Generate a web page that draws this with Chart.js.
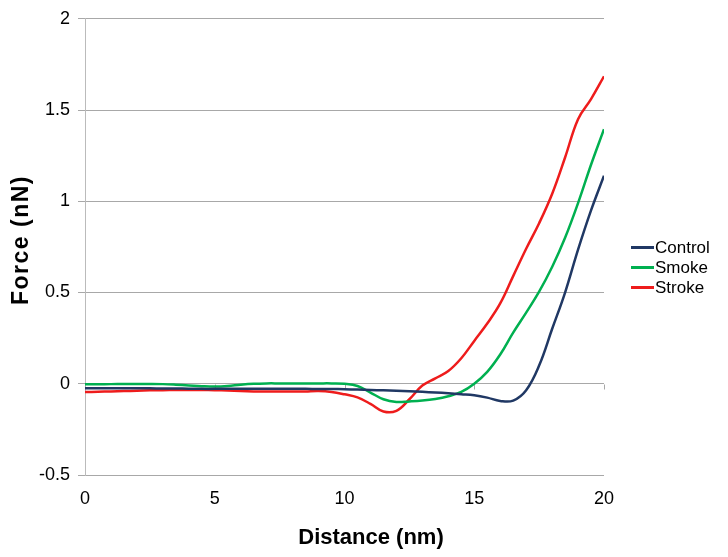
<!DOCTYPE html>
<html>
<head>
<meta charset="utf-8">
<script src="https://cdn.jsdelivr.net/npm/chart.js@4.4.1/dist/chart.umd.min.js"></script>
<style>
	body { margin: 0; background: #fff; }
	#wrap { position: relative; width: 728px; height: 557px; font-family: "Liberation Sans", Arial, sans-serif; }
	#myChart { position: absolute; left: 0; top: 0; }
	.axis-title { position: absolute; font-weight: bold; font-size: 22px; line-height: 22px; white-space: nowrap; color: #000; }
	#xTitle { left: 371px; top: 537px; transform: translate(-50%, -50%); }
	#yTitle { left: 19.5px; top: 240px; font-size: 23px; transform: translate(-50%, -50%) rotate(-90deg); letter-spacing: 1.5px; }
	#legend { position: absolute; left: 631px; top: 238px; font-size: 17px; color: #000; }
	#legend div { height: 20px; line-height: 20px; white-space: nowrap; }
	#legend span { display: inline-block; width: 23px; height: 2.5px; vertical-align: middle; margin-right: 1px; position: relative; top: -1px; }
</style>
</head>
<body>
<div id="wrap">
	<canvas id="myChart" width="728" height="557"></canvas>
	<div id="xTitle" class="axis-title">Distance (nm)</div>
	<div id="yTitle" class="axis-title">Force (nN)</div>
	<div id="legend"></div>
</div>
<script>
	// values
	var distance = [0, 0.5, 1, 1.5, 2, 2.5, 3, 3.5, 4, 4.5, 5, 5.5, 6, 6.5, 7, 7.5, 8, 8.5, 9, 9.5,
		10, 10.5, 11, 11.5, 12, 12.5, 13, 13.5, 14, 14.5, 15, 15.5, 16, 16.5, 17, 17.5, 18, 18.5, 19, 19.5, 20];

	var control = [-0.025, -0.025, -0.025, -0.025, -0.025, -0.025, -0.026, -0.026, -0.027, -0.028,
		-0.028, -0.028, -0.028, -0.028, -0.028, -0.028, -0.028, -0.028, -0.029, -0.029,
		-0.03, -0.032, -0.034, -0.036, -0.038, -0.041, -0.044, -0.048, -0.052, -0.057,
		-0.063, -0.076, -0.094, -0.092, -0.035, 0.1, 0.3, 0.5, 0.735, 0.95, 1.14];

	var smoke = [-0.003, -0.003, -0.002, -0.001, -0.001, -0.001, -0.002, -0.005, -0.009, -0.013,
		-0.015, -0.012, -0.005, 0, 0.002, 0.002, 0.002, 0.002, 0.002, 0.002,
		0, -0.012, -0.048, -0.085, -0.1, -0.097, -0.092, -0.083, -0.068, -0.045,
		0, 0.065, 0.16, 0.28, 0.39, 0.505, 0.64, 0.8, 0.99, 1.2, 1.395];

	var stroke = [-0.045, -0.044, -0.042, -0.04, -0.038, -0.036, -0.035, -0.034, -0.034, -0.034,
		-0.035, -0.037, -0.04, -0.042, -0.043, -0.043, -0.043, -0.042, -0.04, -0.045,
		-0.058, -0.075, -0.11, -0.152, -0.148, -0.085, -0.01, 0.03, 0.07, 0.14,
		0.235, 0.33, 0.44, 0.59, 0.74, 0.88, 1.04, 1.24, 1.45, 1.56, 1.685];

	var seriesNames = ['Control', 'Smoke', 'Stroke'];
	var seriesColors = ['#203864', '#00B050', '#EE1C1C'];
	var yTickValues = [-0.5, 0, 0.5, 1, 1.5, 2];
	var xTickValues = [0, 5, 10, 15, 20];

	var gridColor = '#A8A8A8';

	function toPoints(values) {
		var pts = [];
		for (var i = 0; i < values.length; i++) {
			pts.push({ x: distance[i], y: values[i] });
		}
		return pts;
	}

	// small tick marks hanging down from the zero line (excel style)
	var zeroTicks = {
		id: 'zeroTicks',
		beforeDatasetsDraw: function(chart) {
			var ctx = chart.ctx;
			var x = chart.scales.x;
			var y0 = Math.round(chart.scales.y.getPixelForValue(0)) + 0.5;
			ctx.save();
			ctx.strokeStyle = gridColor;
			ctx.lineWidth = 1;
			xTickValues.forEach(function(v) {
				var px = Math.round(x.getPixelForValue(v)) + 0.5;
				ctx.beginPath();
				ctx.moveTo(px, y0);
				ctx.lineTo(px, y0 + 5);
				ctx.stroke();
			});
			ctx.restore();
		}
	};

	var allSeries = [control, smoke, stroke];
	var datasets = [];
	for (var s = 0; s < allSeries.length; s++) {
		datasets.push({
			label: seriesNames[s],
			data: toPoints(allSeries[s]),
			borderColor: seriesColors[s],
			backgroundColor: seriesColors[s],
			borderWidth: 2.5,
			pointRadius: 0,
			tension: 0.4,
			fill: false
		});
	}

	var ctx = document.getElementById('myChart');
	var myChart = new Chart(ctx, {
		type: 'line',
		data: { datasets: datasets },
		options: {
			responsive: false,
			animation: false,
			devicePixelRatio: 1,
			layout: { padding: { left: 0, top: 16, right: 124, bottom: 0 } },
			plugins: {
				legend: { display: false },
				tooltip: { enabled: false }
			},
			scales: {
				x: {
					type: 'linear',
					min: 0,
					max: 20,
					afterFit: function(scale) { scale.height = 82; },
					afterBuildTicks: function(scale) {
						scale.ticks = xTickValues.map(function(v) { return { value: v }; });
					},
					grid: { display: false },
					border: { display: false },
					ticks: {
						padding: 5,
						color: '#000',
						font: { family: '"Liberation Sans", Arial, sans-serif', size: 18 },
						callback: function(v) { return String(v); }
					}
				},
				y: {
					min: -0.5,
					max: 2,
					afterFit: function(scale) { scale.width = 85; },
					afterBuildTicks: function(scale) {
						scale.ticks = yTickValues.map(function(v) { return { value: v }; });
					},
					grid: { color: gridColor, tickLength: 7, lineWidth: 1 },
					border: { color: '#BBBBBB', width: 1 },
					ticks: {
						padding: 8,
						color: '#000',
						font: { family: '"Liberation Sans", Arial, sans-serif', size: 18 },
						callback: function(v) { return String(v); }
					}
				}
			}
		},
		plugins: [zeroTicks]
	});

	// legend built from the same names and colours
	var legend = document.getElementById('legend');
	for (var k = 0; k < seriesNames.length; k++) {
		var row = document.createElement('div');
		var swatch = document.createElement('span');
		swatch.style.background = seriesColors[k];
		row.appendChild(swatch);
		row.appendChild(document.createTextNode(seriesNames[k]));
		legend.appendChild(row);
	}
</script>
</body>
</html>
